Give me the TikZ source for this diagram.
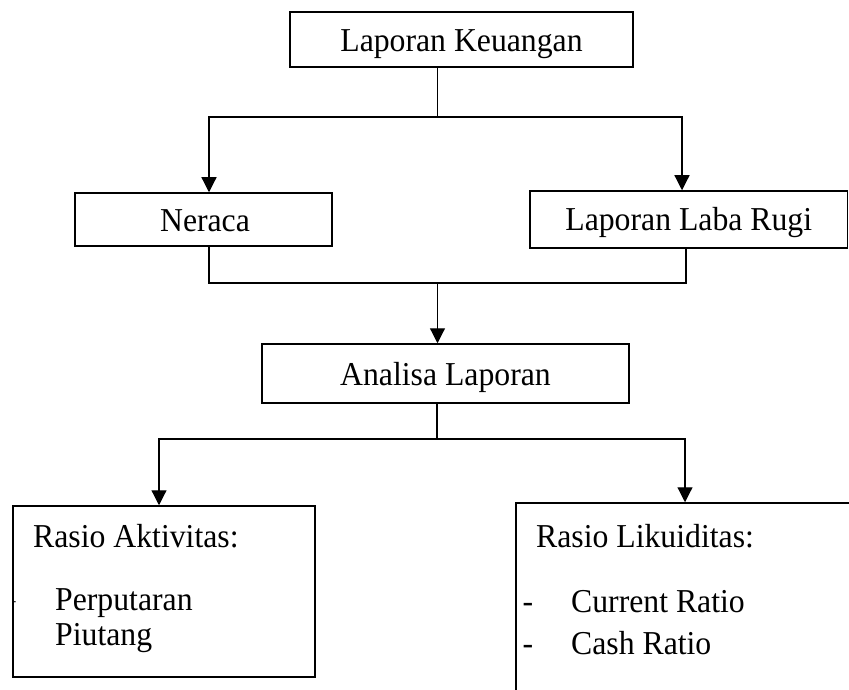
\documentclass[tikz,border=0pt]{standalone}
\usepackage{fontspec}
\setmainfont[FakeStretch=0.95]{Liberation Serif}
\usetikzlibrary{arrows.meta}
\begin{document}
\begin{tikzpicture}[x=1pt,y=-1pt,
  box/.style={draw, line width=1.5pt, inner sep=0pt, text height=24pt, text depth=0pt,
    font=\fontsize{33.4}{38}\selectfont},
  txt/.style={inner sep=0pt, font=\fontsize{33.4}{38}\selectfont},
  conn/.style={line width=1.2pt},
  arr/.style={conn, -{Triangle[width=15pt,length=15pt]}}]
\useasboundingbox (0,0) rectangle (849,690);
\clip (0,0) rectangle (849,690);
% boxes
\node[box, minimum width=343pt, minimum height=55pt] (top) at (461.5,39.5) {Laporan Keuangan};
\node[box, minimum width=257pt, minimum height=53pt] (neraca) at (203.5,219.5) {\hspace{3pt}Neraca};
\node[box, minimum width=317.5pt, minimum height=57pt, text height=22.5pt] (laba) at (688.75,219.5) {Laporan Laba Rugi};
\node[box, minimum width=367pt, minimum height=59pt, text height=23pt] (analisa) at (445.5,373.5) {Analisa Laporan};
\node[box, minimum width=302pt, minimum height=171pt] (aktiv) at (164,591.5) {};
\node[box, minimum width=384pt, minimum height=217pt] (likuid) at (708,611.5) {};
% texts in bottom boxes
\node[txt, anchor=base west] (ra) at (33,547) {Rasio Aktivitas:};
\node[txt, anchor=base, font=\fontsize{14}{16}\selectfont] (d0) at (14,605) {-};
\node[txt, anchor=base west] (pp) at (55,610) {Perputaran};
\node[txt, anchor=base west] (pi) at (55,645) {Piutang};
\node[txt, anchor=base west] (rl) at (536,547) {Rasio Likuiditas:};
\node[txt, anchor=base] (d1) at (528,612) {-};
\node[txt, anchor=base west] (cr) at (571,612) {Current Ratio};
\node[txt, anchor=base] (d2) at (528,654) {-};
\node[txt, anchor=base west] (ca) at (571,654) {Cash Ratio};
% connector columns
\coordinate (s1) at (437.5,117);
\coordinate (s2) at (437.5,283);
\coordinate (s3) at (437,439);
\coordinate (cL) at (209,0);
\coordinate (cR) at (682,0);
\coordinate (cR2) at (686,0);
\coordinate (cL3) at (159,0);
\coordinate (cR3) at (685,0);
% connectors
\draw[conn] (top.south -| s1) -- (s1);
\draw[arr] (s1) -| (neraca.north -| cL);
\draw[arr] (s1) -| (laba.north -| cR);
\draw[conn] (neraca.south -| cL) |- (s2) -| (laba.south -| cR2);
\draw[arr] (s2) -- (analisa.north -| s2);
\draw[conn] (analisa.south -| s3) -- (s3);
\draw[arr] (s3) -| (aktiv.north -| cL3);
\draw[arr] (s3) -| (likuid.north -| cR3);
\end{tikzpicture}
\end{document}
